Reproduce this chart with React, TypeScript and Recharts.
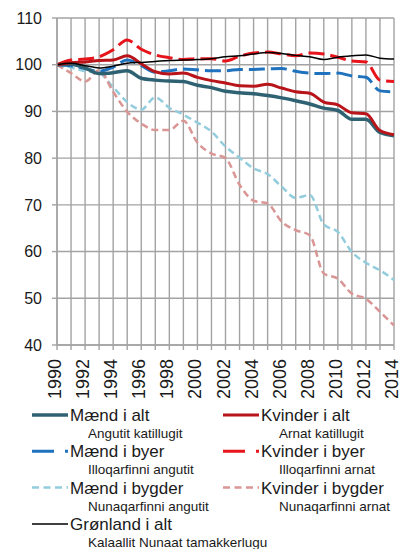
import { LineChart, Line, XAxis, YAxis, CartesianGrid } from 'recharts';

const years = [
    1990, 1991, 1992, 1993, 1994, 1995, 1996, 1997, 1998, 1999, 2000, 2001, 2002,
    2003, 2004, 2005, 2006, 2007, 2008, 2009, 2010, 2011, 2012, 2013, 2014,
];
const yTicks = [40, 50, 60, 70, 80, 90, 100, 110];

const maendIAlt = [
    100, 100.1, 99.3, 98.1, 98.3, 98.7, 97.1, 96.7, 96.5, 96.4, 95.6, 95.1, 94.3,
    94.0, 93.8, 93.4, 92.9, 92.3, 91.6, 90.7, 90.2, 88.3, 88.3, 85.5, 84.8,
];
const kvinderIAlt = [
    100, 100.4, 100.6, 100.9, 101.0, 101.9, 100.2, 98.5, 98.0, 98.2, 97.3, 96.6, 96.1,
    95.5, 95.4, 95.8, 95.0, 94.2, 93.9, 92.0, 91.4, 89.7, 89.5, 85.9, 85.0,
];
const maendIByer = [
    100, 99.8, 99.2, 98.6, 99.5, 101.0, 99.8, 98.4, 98.7, 99.1, 98.9, 98.7, 98.7,
    99.0, 99.0, 99.1, 99.2, 98.6, 98.2, 98.1, 98.2, 97.6, 97.3, 94.4, 94.2,
];
const kvinderIByer = [
    100, 101.0, 101.2, 101.7, 103.2, 105.3, 103.3, 102.1, 101.5, 101.1, 101.3, 101.3, 100.8,
    101.8, 102.5, 102.7, 102.3, 101.9, 102.5, 102.3, 101.6, 100.8, 100.6, 96.7, 96.4,
];
const maendIBygder = [
    100, 99.4, 98.6, 98.2, 95.2, 92.0, 90.4, 93.0, 90.8, 89.3, 87.6, 85.7, 82.5,
    80.1, 77.8, 76.6, 73.9, 71.5, 72.1, 65.8, 64.2, 59.9, 57.6, 56.0, 53.9,
];
const kvinderIBygder = [
    100, 98.2, 96.4, 98.8, 94.2, 89.9, 87.4, 86.0, 86.0, 88.0, 83.3, 81.0, 80.0,
    74.3, 70.9, 70.3, 66.4, 64.6, 63.5, 55.3, 54.2, 51.0, 49.9, 47.1, 44.2,
];
const gronlandIAlt = [
    100, 100.3, 99.8, 99.3, 99.7, 100.3, 100.5, 100.7, 100.9, 101.0, 101.1, 101.3, 101.7,
    101.9, 102.3, 102.6, 102.4, 102.0, 101.7, 101.1, 101.6, 101.9, 102.1, 101.4, 101.2,
];

const data = years.map((year, i) => ({
    year,
    maendIAlt: maendIAlt[i],
    kvinderIAlt: kvinderIAlt[i],
    maendIByer: maendIByer[i],
    kvinderIByer: kvinderIByer[i],
    maendIBygder: maendIBygder[i],
    kvinderIBygder: kvinderIBygder[i],
    gronlandIAlt: gronlandIAlt[i],
}));

// serier: nøgle, farve, bredde, streg
const series = [
    { key: 'maendIBygder', label: 'Mænd i bygder', sub: 'Nunaqarfinni angutit', color: '#93cddd', width: 2.5, dash: '7 4', legendDash: '7 4.5' },
    { key: 'kvinderIBygder', label: 'Kvinder i bygder', sub: 'Nunaqarfinni arnat', color: '#d99694', width: 2.5, dash: '7 4', legendDash: '7 4.5' },
    { key: 'maendIByer', label: 'Mænd i byer', sub: 'Illoqarfinni angutit', color: '#1f72bd', width: 3, dash: '16 6', legendDash: '22 11 3 10' },
    { key: 'kvinderIByer', label: 'Kvinder i byer', sub: 'Illoqarfinni arnat', color: '#e8141c', width: 3, dash: '16 6', legendDash: '22 11 3 10' },
    { key: 'maendIAlt', label: 'Mænd i alt', sub: 'Angutit katillugit', color: '#2e6272', width: 3.5, dash: undefined, legendDash: undefined },
    { key: 'kvinderIAlt', label: 'Kvinder i alt', sub: 'Arnat katillugit', color: '#b8141a', width: 3, dash: undefined, legendDash: undefined },
    { key: 'gronlandIAlt', label: 'Grønland i alt', sub: 'Kalaallit Nunaat tamakkerlugu', color: '#000000', width: 1.5, dash: undefined, legendDash: undefined },
];

const legendOrder = [
    ['maendIAlt', 'kvinderIAlt'],
    ['maendIByer', 'kvinderIByer'],
    ['maendIBygder', 'kvinderIBygder'],
    ['gronlandIAlt'],
];

const FONT = '"Liberation Sans", Arial, sans-serif';
const GRID = '#a3a3a3';

function YearTick({ x, y, payload }: any) {
    if (payload.value % 2 !== 0) return null;
    const ty = y + 7;
    return (
        <text
            x={x}
            y={ty}
            transform={`rotate(-90 ${x} ${ty})`}
            textAnchor="end"
            dy={4}
            fontSize={18}
            fontFamily={FONT}
            fill="#1a1a1a"
        >
            {payload.value}
        </text>
    );
}

function ChartLegend() {
    return (
        <svg width={402} height={144} style={{ position: 'absolute', left: 0, top: 405 }}>
            {legendOrder.map((row, r) =>
                row.map((key, c) => {
                    const s = series.find((d) => d.key === key)!;
                    const y = 10 + r * 36.3;
                    const x0 = c === 0 ? 32 : 223;
                    return (
                        <g key={key}>
                            <line
                                x1={x0}
                                x2={x0 + 36}
                                y1={y}
                                y2={y}
                                stroke={s.color}
                                strokeWidth={s.width}
                                strokeDasharray={s.legendDash}
                            />
                            <text x={x0 + 38} y={y + 6} fontSize={17} fontFamily={FONT} fill="#1a1a1a">
                                {s.label}
                            </text>
                            <text x={x0 + 56} y={y + 23} fontSize={13.5} fontFamily={FONT} fill="#1a1a1a">
                                {s.sub}
                            </text>
                        </g>
                    );
                })
            )}
        </svg>
    );
}

export default function App() {
    return (
        <div style={{ position: 'absolute', left: 0, top: 0, width: 402, height: 549, background: '#fff' }}>
            <LineChart width={402} height={405} data={data} margin={{ top: 18, right: 8, left: 0, bottom: 5 }}>
                <CartesianGrid stroke={GRID} strokeWidth={1.4} />
                <XAxis
                    dataKey="year"
                    type="number"
                    domain={[1990, 2014]}
                    ticks={years}
                    interval={0}
                    height={55}
                    stroke={GRID}
                    strokeWidth={1.4}
                    tickSize={5}
                    tick={<YearTick />}
                />
                <YAxis
                    domain={[40, 110]}
                    ticks={yTicks}
                    width={57}
                    stroke={GRID}
                    strokeWidth={1.4}
                    tickSize={5}
                    tickMargin={10}
                    tick={{ fontSize: 16, fontFamily: FONT, fill: '#1a1a1a' }}
                />
                {series.map((s) => (
                    <Line
                        key={s.key}
                        dataKey={s.key}
                        type="monotone"
                        stroke={s.color}
                        strokeWidth={s.width}
                        strokeDasharray={s.dash}
                        dot={false}
                        isAnimationActive={false}
                    />
                ))}
            </LineChart>
            <ChartLegend />
        </div>
    );
}
